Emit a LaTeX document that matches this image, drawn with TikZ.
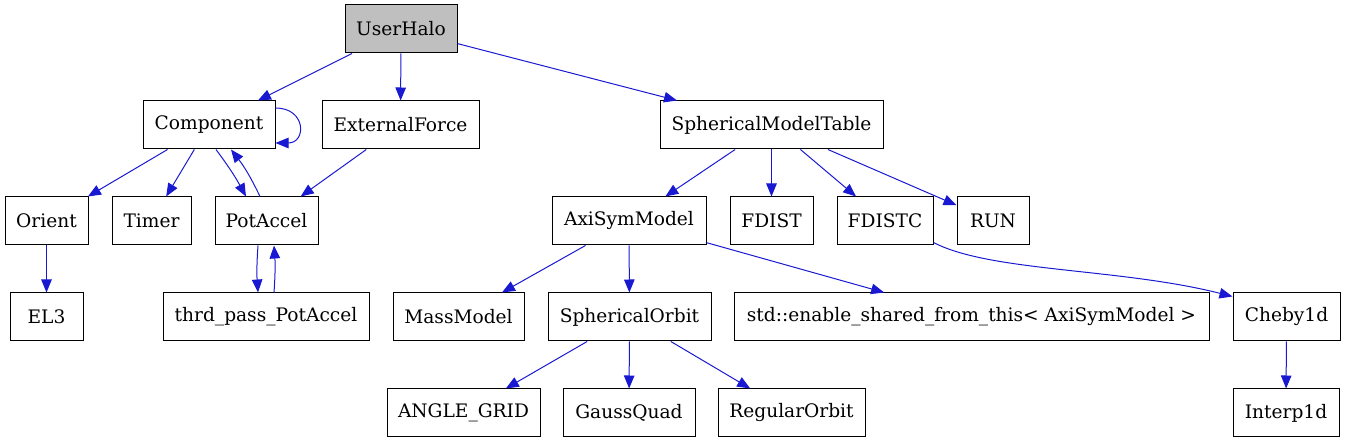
\documentclass[tikz,border=0pt]{standalone}
\usepackage{fontspec}
\setmainfont{DejaVu Serif}
\usetikzlibrary{arrows.meta,calc}
\definecolor{edgeblue}{RGB}{25,25,210}
\definecolor{hgray}{RGB}{191,191,191}
\begin{document}
\begin{tikzpicture}[x=1pt,y=-1pt,
  box/.style={draw=black, line width=1pt, inner sep=0pt, minimum height=48pt, anchor=center,
    font=\fontsize{18.6}{22}\selectfont},
  edge/.style={draw=edgeblue, line width=1pt, -{Triangle[length=13pt,width=10.5pt]}}]
\useasboundingbox (0,0) rectangle (1345,443);
% row 1
\node[box, fill=hgray, minimum width=112pt] (uh) at (401,29) {UserHalo};
% row 2
\node[box, minimum width=132pt] (comp) at (209,125) {Component};
\node[box, minimum width=157pt] (ext) at (400.5,125) {ExternalForce};
\node[box, minimum width=223pt] (smt) at (771.5,125) {SphericalModelTable};
% row 3
\node[box, minimum width=83pt] (orient) at (46.5,221) {Orient};
\node[box, minimum width=79pt] (timer) at (151.5,221) {Timer};
\node[box, minimum width=103pt] (pa) at (266.5,221) {PotAccel};
\node[box, minimum width=154pt] (axi) at (629,221) {AxiSymModel};
\node[box, minimum width=83pt] (fdist) at (771.5,221) {FDIST};
\node[box, minimum width=96pt] (fdistc) at (885,221) {FDISTC};
\node[box, minimum width=72pt] (run) at (993,221) {RUN};
% row 4
\node[box, minimum width=73pt] (el3) at (46.5,317) {EL3};
\node[box, minimum width=206pt] (thrd) at (266,317) {thrd\_pass\_PotAccel};
\node[box, minimum width=131pt] (mass) at (458.5,317) {MassModel};
\node[box, minimum width=163pt] (sorb) at (629.5,317) {SphericalOrbit};
\node[box, minimum width=475pt] (std) at (971.5,317) {std::enable\_shared\_from\_this< AxiSymModel >};
\node[box, minimum width=107pt] (cheby) at (1286.5,317) {Cheby1d};
% row 5
\node[box, minimum width=153pt] (angle) at (463.5,413) {ANGLE\_GRID};
\node[box, minimum width=132pt] (gauss) at (629,413) {GaussQuad};
\node[box, minimum width=147pt] (reg) at (791.5,413) {RegularOrbit};
\node[box, minimum width=106pt] (interp) at (1286,413) {Interp1d};
% edges
\draw[edge] (uh) -- (comp);
\draw[edge] (uh) -- (ext);
\draw[edge] (uh) -- (smt);
\draw[edge] ($(comp.east)+(0,-17)$) .. controls ($(comp.east)+(31,-17)$) and ($(comp.east)+(31,18)$) .. ($(comp.east)+(0,18)$);
\draw[edge] (comp) -- (orient);
\draw[edge] (comp) -- (timer);
\draw[edge] ($(comp.south)+(7,0)$) to[bend left=4] ($(pa.north)+(-20.5,0)$);
\draw[edge] ($(pa.north)+(-6.5,0)$) to[bend right=6] ($(comp.south)+(22,0)$);
\draw[edge] (ext) -- (pa);
\draw[edge] ($(pa.south)+(-8.5,0)$) to[bend right=4] ($(thrd.north)+(-8,0)$);
\draw[edge] ($(thrd.north)+(8,0)$) to[bend right=4] ($(pa.south)+(7.5,0)$);
\draw[edge] (orient) -- (el3);
\draw[edge] (smt) -- (axi);
\draw[edge] (smt) -- (fdist);
\draw[edge] (smt) -- (fdistc);
\draw[edge] (smt) -- (run);
\draw[edge] ($(fdistc.south east)+(0,-3)$) .. controls (990,272) and (1120,268) .. ($(cheby.north west)+(0,4)$);
\draw[edge] (axi) -- (mass);
\draw[edge] (axi) -- (sorb);
\draw[edge] (axi) -- (std);
\draw[edge] (sorb) -- (angle);
\draw[edge] (sorb) -- (gauss);
\draw[edge] (sorb) -- (reg);
\draw[edge] (cheby) -- (interp);
\end{tikzpicture}
\end{document}
